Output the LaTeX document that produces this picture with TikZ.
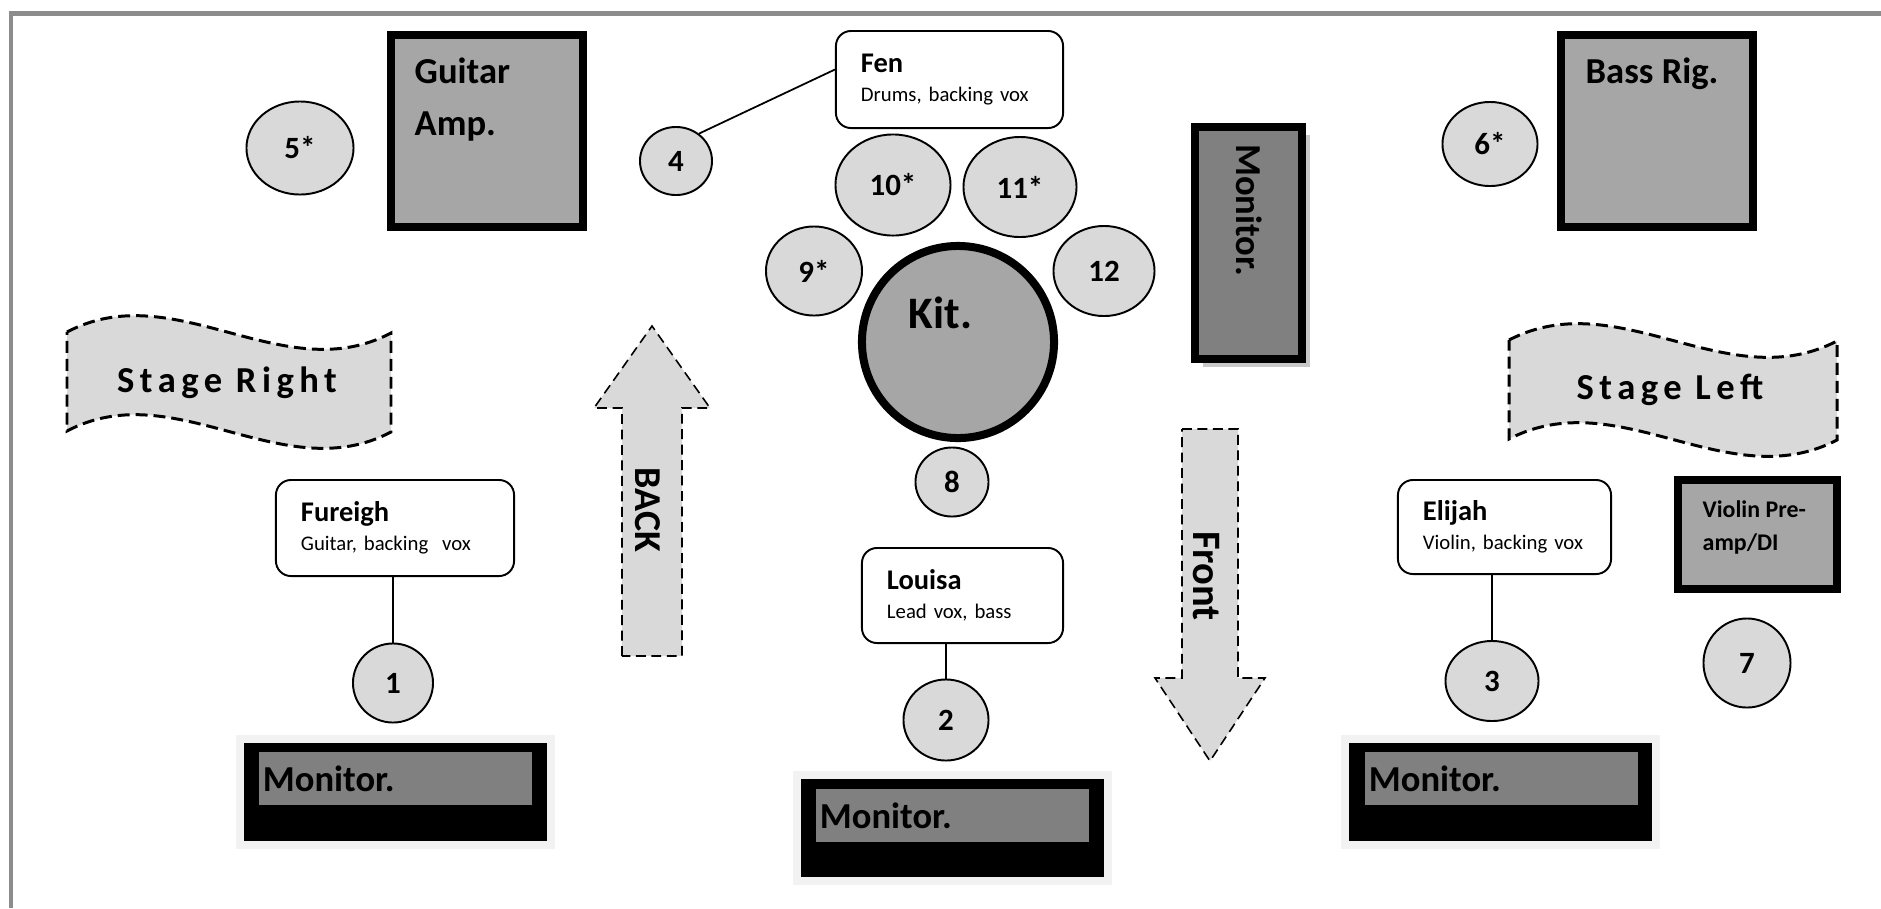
\documentclass[tikz,border=0pt]{standalone}
\usepackage{fontspec}
\setmainfont{Carlito}
\usetikzlibrary{shapes.geometric,shadows,calc}
\definecolor{micgray}{HTML}{D9D9D9}
\definecolor{ampgray}{HTML}{A6A6A6}
\definecolor{mongray}{HTML}{808080}
\definecolor{glowgray}{HTML}{F2F2F2}
\definecolor{framegray}{HTML}{8C8C8C}
\definecolor{shadegray}{HTML}{C8C8C8}
\newcommand\bigbold{\bfseries\fontsize{10.4}{12}\selectfont}
\newcommand\namefont{\bfseries\fontsize{8.1}{8.25}\selectfont}
\begin{document}
\begin{tikzpicture}[x=0.01cm,y=-0.01cm,
mic/.style={ellipse,draw,line width=0.55pt,fill=micgray,inner sep=0pt,
  font=\bfseries\fontsize{8.8}{10}\selectfont},
player/.style={draw,line width=0.55pt,fill=white,rounded corners=0.15cm,
  align=left,inner xsep=0.25cm,inner ysep=0pt,
  font=\fontsize{5.9}{8.25}\selectfont},
amp/.style={draw,line width=2.28pt,fill=ampgray,inner sep=0pt},
kit/.style={circle,draw,line width=2.28pt,fill=ampgray,inner sep=0pt,
  minimum size=1.92cm},
sidemon/.style={draw,line width=2.28pt,fill=mongray,inner sep=0pt,
  drop shadow={shadow xshift=0.08cm,shadow yshift=-0.08cm,fill=shadegray,opacity=1}},
monbox/.style={fill=black,inner sep=0pt,minimum width=3.03cm,minimum height=0.98cm,
  preaction={draw=glowgray,line width=0.16cm}},
monface/.style={fill=mongray,anchor=north west,inner xsep=0.04cm,inner ysep=0pt,
  text width=2.65cm,minimum height=0.53cm,align=left,font=\bigbold},
tag/.style={anchor=base west,inner sep=0pt,font=\bigbold},
sidetag/.style={rotate=-90,inner sep=0pt,font=\bigbold},
stagetag/.style={anchor=base,inner sep=0pt,font=\bigbold\addfontfeature{LetterSpace=15}},
banner/.style={draw,fill=micgray,line width=0.85pt,dash pattern=on 3.4pt off 1.7pt},
dirarrow/.style={draw,fill=micgray,line width=0.45pt,dash pattern=on 2.8pt off 1.6pt}]
\useasboundingbox (0,0) rectangle (1881,908);
\draw[framegray,line width=1.3pt] (11,908) -- (11,13.5) -- (1881,13.5);

\draw[banner] (67,332) .. controls (175,275) and (283,390) .. (391,333) -- (391,432)
  .. controls (283,489) and (175,374) .. (67,431) -- cycle;
\node[stagetag] (sright) at (227,392) {Stage Right};
\draw[banner] (1509,340) .. controls (1619,283) and (1727,398) .. (1837,341) -- (1837,440)
  .. controls (1727,497) and (1619,382) .. (1509,439) -- cycle;
\node[stagetag] (sleft) at (1670,399) {Stage Left};

\draw[dirarrow] (622,656) -- (622,408) -- (594,408) -- (652,326) -- (710,408)
  -- (682,408) -- (682,656) -- cycle;
\node[sidetag,font=\bfseries\fontsize{10.8}{12}\selectfont] (back) at (648,510) {BACK};
\draw[dirarrow] (1182,429) -- (1238,429) -- (1238,678) -- (1265,678) -- (1210,761)
  -- (1155,678) -- (1182,678) -- cycle;
\node[sidetag,font=\bfseries\fontsize{11.5}{13}\selectfont] (front) at (1206,576) {Front};

\node[amp,minimum size=1.92cm] (gamp) at (487,131) {};
\node[tag] (gampA) at (414,83) {Guitar};
\node[tag] (gampB) at (414,135) {Amp.};
\node[amp,minimum size=1.92cm] (bamp) at (1657,131) {};
\node[tag] (bampA) at (1585,83) {Bass Rig.};
\node[amp,minimum width=1.59cm,minimum height=1.09cm] (vamp) at (1757.5,534.5) {};
\node[tag,font=\bfseries\fontsize{6.8}{8}\selectfont] (vampA) at (1702,517) {Violin Pre-};
\node[tag,font=\bfseries\fontsize{6.8}{8}\selectfont] (vampB) at (1702,550) {amp/DI};

\node[sidemon,minimum width=1.07cm,minimum height=2.32cm] (smon) at (1248.5,243) {};
\node[sidetag] (smonA) at (1249,210) {Monitor.};

\node[mic,minimum width=0.80cm,minimum height=0.79cm] (m1) at (393,683) {1};
\node[mic,minimum width=0.85cm,minimum height=0.81cm] (m2) at (946,720) {2};
\node[mic,minimum width=0.93cm,minimum height=0.80cm] (m3) at (1492,681) {3};
\node[mic,minimum width=0.72cm,minimum height=0.68cm] (m4) at (676,161) {4};
\node[mic,minimum width=1.07cm,minimum height=0.93cm] (m5) at (300,148) {5*};
\node[mic,minimum width=0.95cm,minimum height=0.84cm] (m6) at (1490,144) {6*};
\node[mic,minimum width=0.87cm,minimum height=0.89cm] (m7) at (1747,663) {7};
\node[mic,minimum width=0.73cm,minimum height=0.69cm] (m8) at (952,482) {8};
\node[mic,minimum width=0.96cm,minimum height=0.89cm] (m9) at (814,271) {9*};
\node[mic,minimum width=1.15cm,minimum height=1.01cm] (m10) at (893,185) {10*};
\node[mic,minimum width=1.13cm,minimum height=1.00cm] (m11) at (1020,187) {11*};
\node[mic,minimum width=1.01cm,minimum height=0.90cm] (m12) at (1104,271) {12};

\node[kit] (kit) at (958,342) {};
\node[tag,font=\bfseries\fontsize{12.8}{14}\selectfont] (kitA) at (908,328) {Kit.};

\node[player,text width=1.77cm,minimum height=0.97cm] (fen) at (949.5,79.5)
  {{\namefont Fen}\\Drums, backing vox};
\node[player,text width=1.88cm,minimum height=0.96cm] (fureigh) at (395,528)
  {{\namefont Fureigh}\\Guitar, backing\ \ vox};
\node[player,text width=1.51cm,minimum height=0.95cm] (louisa) at (962.5,595.5)
  {{\namefont Louisa}\\Lead vox, bass};
\node[player,text width=1.63cm,minimum height=0.94cm] (elijah) at (1504.5,527)
  {{\namefont Elijah}\\Violin, backing vox};

\draw[line width=0.5pt] (m4.50) -- ([yshift=0.1cm]fen.west);
\draw[line width=0.5pt] (m1 |- fureigh.south) -- (m1);
\draw[line width=0.5pt] (m2 |- louisa.south) -- (m2);
\draw[line width=0.5pt] (m3 |- elijah.south) -- (m3);

\node[monbox] (mon1) at (395.5,792) {};
\node[monface] (mon1A) at ([shift={(15,9)}]mon1.north west) {Monitor.};
\node[monbox] (mon2) at (952.5,828) {};
\node[monface] (mon2A) at ([shift={(15,10)}]mon2.north west) {Monitor.};
\node[monbox] (mon3) at (1500.5,792) {};
\node[monface] (mon3A) at ([shift={(16,9)}]mon3.north west) {Monitor.};
\end{tikzpicture}
\end{document}
